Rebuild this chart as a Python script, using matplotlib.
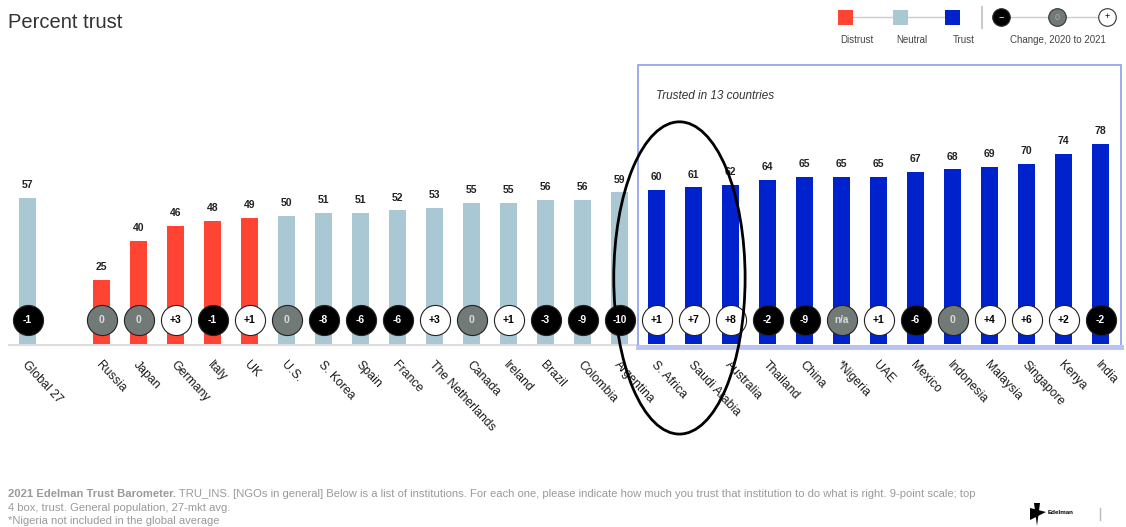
import matplotlib
matplotlib.use("Agg")
import matplotlib.pyplot as plt
from matplotlib.patches import Ellipse, Rectangle, Polygon

plt.rcParams['font.family'] = ['Liberation Sans', 'DejaVu Sans']

# ---- data -------------------------------------------------------------
countries = ["Global 27", "Russia", "Japan", "Germany", "Italy", "UK", "U.S.",
             "S. Korea", "Spain", "France", "The Netherlands", "Canada", "Ireland",
             "Brazil", "Colombia", "Argentina", "S. Africa", "Saudi Arabia",
             "Australia", "Thailand", "China", "*Nigeria", "UAE", "Mexico",
             "Indonesia", "Malaysia", "Singapore", "Kenya", "India"]
trust = [57, 25, 40, 46, 48, 49, 50, 51, 51, 52, 53, 55, 55, 56, 56, 59,
         60, 61, 62, 64, 65, 65, 65, 67, 68, 69, 70, 74, 78]
change = ["-1", "0", "0", "+3", "-1", "+1", "0", "-8", "-6", "-6", "+3", "0",
          "+1", "-3", "-9", "-10", "+1", "+7", "+8", "-2", "-9", "n/a", "+1",
          "-6", "0", "+4", "+6", "+2", "-2"]
# Global average sits apart from the countries, one empty slot between
slots = [0] + list(range(2, 2 + len(countries) - 1))

DISTRUST, NEUTRAL, TRUST = "#ff4433", "#a9c8d3", "#0022cc"
CH_NEG, CH_ZERO, CH_POS = "#000000", "#727a78", "#ffffff"


def zone_color(v):
    if v < 50:
        return DISTRUST
    if v < 60:
        return NEUTRAL
    return TRUST


def change_style(c):
    if c.startswith("-"):
        return CH_NEG, "white"
    if c.startswith("+"):
        return CH_POS, "black"
    return CH_ZERO, "#d8dcdc"


W, H = 1126, 527
fig = plt.figure(figsize=(W / 100, H / 100), dpi=100)

# main data axes spans the figure: 37 px per slot, 2.57 px per point
PX_SLOT, PX_UNIT = 37.0, 2.57
X0_PX, Y0_PX = 27.5, 344.0
ax = fig.add_axes([0, 0, 1, 1])
ax.set_xlim(-X0_PX / PX_SLOT, (W - X0_PX) / PX_SLOT)
ax.set_ylim(-(H - Y0_PX) / PX_UNIT, Y0_PX / PX_UNIT)
ax.axis("off")

# overlay axes in pixel coordinates for titles, legend and notes
ov = fig.add_axes([0, 0, 1, 1], zorder=5)
ov.set_xlim(0, W)
ov.set_ylim(H, 0)
ov.axis("off")
ov.patch.set_alpha(0)

# baseline
ax.plot([-0.5, 16.5], [-0.5, -0.5], color="#dddddd", lw=1.5, zorder=1)

# "trusted" highlight box
box_x0 = 16.5
ax.add_patch(Rectangle((box_x0, -0.9), 29.55 - box_x0, 109.5, fill=False,
                       edgecolor="#8d9cf0", lw=1.2, zorder=1))
ax.plot([box_x0, 29.55], [-1.2, -1.2], color="#b8c2f5", lw=3.5, zorder=1)
ax.text(17.0, 96.5, "Trusted in 13 countries", fontsize=8.5, style="italic",
        color="#333333", va="center", ha="left")

bar_colors = [zone_color(v) for v in trust]
ax.bar(slots, trust, width=0.46, color=bar_colors, zorder=2)

CIRCLE_Y = 9.3
for x, v, c, name in zip(slots, trust, change, countries):
    ax.text(x, v + 3.0, str(v), ha="center", va="bottom", fontsize=7.5,
            fontweight="bold", color="#222222", zorder=4)
    face, tcol = change_style(c)
    ax.scatter([x], [CIRCLE_Y], s=470, facecolor=face, edgecolor="#222222",
               linewidth=0.8, zorder=3)
    ax.text(x, CIRCLE_Y, c, ha="center", va="center",
            fontsize=7.5 if len(c) < 3 else 7.2, fontweight="bold", color=tcol,
            zorder=7)
    ax.text(x - 0.08, -7.5, name, rotation=-47, rotation_mode="anchor",
            ha="left", va="center", fontsize=8.8, color="#1a1a1a")

# highlight ellipse around S. Africa / Saudi Arabia
ax.add_patch(Ellipse((17.62, 25.7), 3.55, 121.5, fill=False, edgecolor="black",
                     lw=2, zorder=6))

# title
ov.text(8, 22, "Percent trust", fontsize=14.5, color="#333333", va="center", ha="left")

# legend: colour zones
sq = 15
leg_y = 17
zone_x = [845, 900, 952]
ov.plot([zone_x[0], zone_x[-1]], [leg_y, leg_y], color="#cccccc", lw=1, zorder=1)
for cx, col, lab in zip(zone_x, [DISTRUST, NEUTRAL, TRUST],
                        ["Distrust", "Neutral", "Trust"]):
    ov.add_patch(Rectangle((cx - sq / 2, leg_y - sq / 2), sq, sq, facecolor=col,
                           edgecolor="none", zorder=2))
    ov.text(cx + 12, 40, lab, fontsize=7, color="#444444", ha="center", va="center")
ov.plot([982, 982], [7, 28], color="#cccccc", lw=1.5)

# legend: change circles
chg_x = [1001, 1057, 1107]
ov.plot([chg_x[0], chg_x[-1]], [leg_y, leg_y], color="#cccccc", lw=1, zorder=1)
for cx, col, sym, tc in zip(chg_x, [CH_NEG, CH_ZERO, CH_POS], ["−", "0", "+"],
                            ["white", "#aaaaaa", "black"]):
    ov.scatter([cx], [leg_y], s=160, facecolor=col, edgecolor="#333333",
               linewidth=0.8, zorder=2)
    ov.text(cx, leg_y, sym, fontsize=6.5, color=tc, ha="center", va="center", zorder=3)
ov.text(1058, 40, "Change, 2020 to 2021", fontsize=7, color="#444444",
        ha="center", va="center")

# footnotes
note_col = "#9a9a9a"
NOTE_FS = 8.1
t1 = ov.text(8, 494, "2021 Edelman Trust Barometer.", fontsize=NOTE_FS, color=note_col,
             fontweight="bold", va="center", ha="left")
ov.annotate(" TRU_INS. [NGOs in general] Below is a list of institutions. For each one, "
            "please indicate how much you trust that institution to do what is right. "
            "9-point scale; top", xy=(1, 0.5), xycoords=t1, fontsize=NOTE_FS,
            color=note_col, va="center", ha="left")
ov.text(8, 508, "4 box, trust. General population, 27-mkt avg.", fontsize=NOTE_FS,
        color=note_col, va="center", ha="left")
ov.text(8, 521, "*Nigeria not included in the global average", fontsize=NOTE_FS,
        color=note_col, va="center", ha="left")

# brand mark
ov.add_patch(Polygon([[1030, 508], [1046, 512], [1030, 520]], closed=True,
                     facecolor="black", edgecolor="none"))
ov.add_patch(Polygon([[1034, 503], [1040, 503], [1037, 526]], closed=True,
                     facecolor="black", edgecolor="none"))
ov.text(1048, 513, "Edelman", fontsize=4.5, color="black", fontweight="bold",
        va="center", ha="left")
ov.plot([1100, 1100], [508, 520], color="#bbbbbb", lw=1)

fig.savefig("out.png", dpi=100)
